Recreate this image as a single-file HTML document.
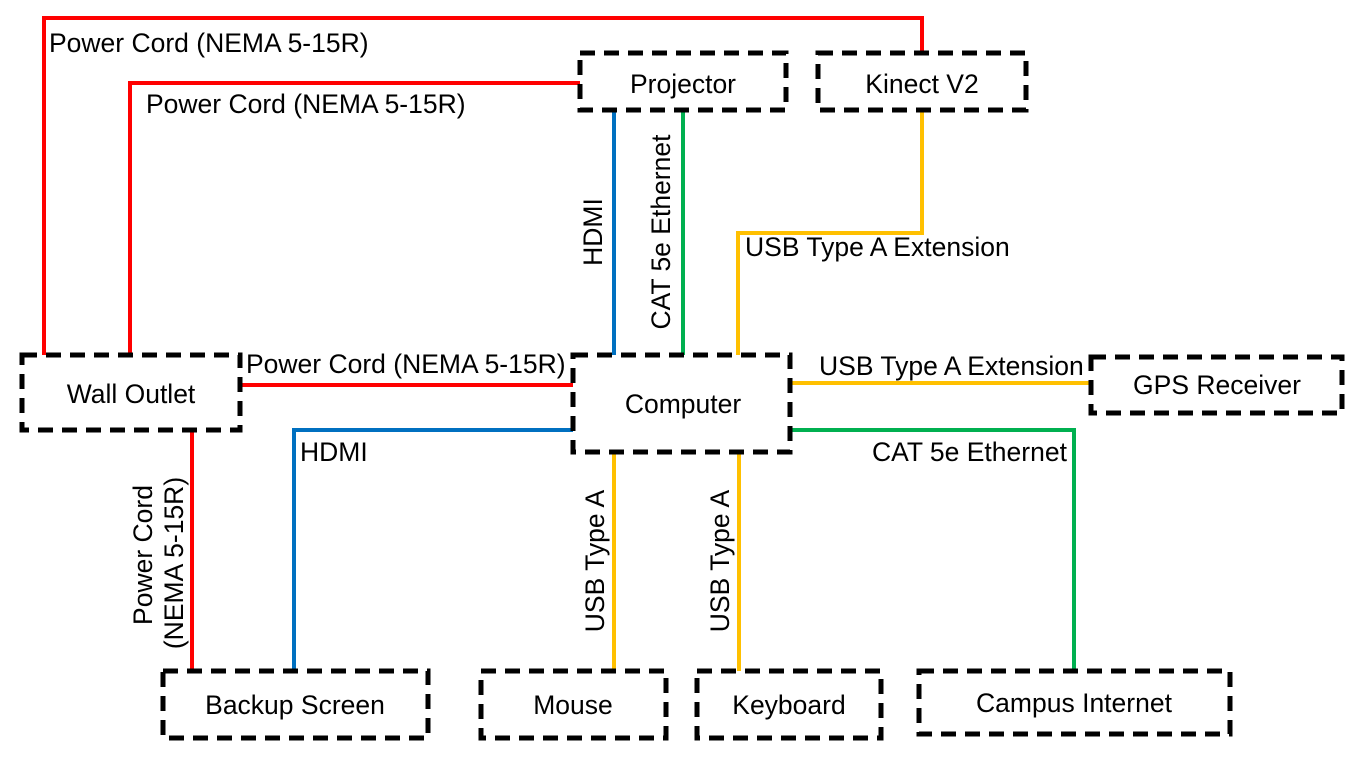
<!DOCTYPE html>
<html><head><meta charset="utf-8"><style>
html,body{margin:0;padding:0;background:#fff;}
svg{display:block;}
text{font-family:"Liberation Sans",Arial,sans-serif;font-size:26.5px;fill:#000;}
</style></head><body>
<svg width="1366" height="768" viewBox="0 0 1366 768" xmlns="http://www.w3.org/2000/svg">
<g fill="none" stroke-width="4">
<polyline stroke="#ff0000" points="44,355 44,18 922,18 922,53"/>
<polyline stroke="#ff0000" points="130,355 130,83 580,83"/>
<line stroke="#ff0000" x1="240" y1="385" x2="573" y2="385"/>
<line stroke="#ff0000" x1="192" y1="430" x2="192" y2="671"/>
<line stroke="#0070c0" x1="614" y1="110" x2="614" y2="355"/>
<polyline stroke="#0070c0" points="573,430 294,430 294,671"/>
<line stroke="#00b050" x1="683" y1="110" x2="683" y2="355"/>
<polyline stroke="#00b050" points="790,430 1074,430 1074,671"/>
<polyline stroke="#ffc000" points="922,110 922,233 738,233 738,355"/>
<line stroke="#ffc000" x1="790" y1="383" x2="1091" y2="383"/>
<line stroke="#ffc000" x1="614" y1="452" x2="614" y2="671"/>
<line stroke="#ffc000" x1="739" y1="452" x2="739" y2="671"/>
</g>
<g fill="#fff" stroke="#000" stroke-width="5" stroke-dasharray="15 9">
<rect x="580" y="53" width="206" height="57"/>
<rect x="818" y="53" width="208" height="57"/>
<rect x="22" y="355" width="218" height="75"/>
<rect x="573" y="355" width="217" height="97"/>
<rect x="1091" y="357" width="251" height="56"/>
<rect x="163" y="671" width="265" height="67"/>
<rect x="481" y="671" width="185" height="67"/>
<rect x="697" y="671" width="184" height="67"/>
<rect x="919" y="671" width="311" height="63"/>
</g>
<g text-anchor="middle">
<text x="683" y="93">Projector</text>
<text x="922" y="93">Kinect V2</text>
<text x="131" y="403">Wall Outlet</text>
<text x="683" y="413">Computer</text>
<text x="1217" y="394">GPS Receiver</text>
<text x="295" y="714">Backup Screen</text>
<text x="573" y="714">Mouse</text>
<text x="789" y="714">Keyboard</text>
<text x="1074" y="712">Campus Internet</text>
</g>
<text x="49" y="52">Power Cord (NEMA 5-15R)</text>
<text x="146" y="113">Power Cord (NEMA 5-15R)</text>
<text x="246" y="373">Power Cord (NEMA 5-15R)</text>
<text x="745" y="256">USB Type A Extension</text>
<text x="819" y="375">USB Type A Extension</text>
<text x="872" y="461">CAT 5e Ethernet</text>
<text x="300" y="461">HDMI</text>
<g text-anchor="middle">
<text transform="translate(602,232) rotate(-90)">HDMI</text>
<text transform="translate(670,232) rotate(-90)">CAT 5e Ethernet</text>
<text transform="translate(604,561) rotate(-90)">USB Type A</text>
<text transform="translate(729,561) rotate(-90)">USB Type A</text>
<text transform="translate(152,555) rotate(-90)">Power Cord</text>
<text transform="translate(183,563) rotate(-90)">(NEMA 5-15R)</text>
</g>
</svg>
</body></html>
